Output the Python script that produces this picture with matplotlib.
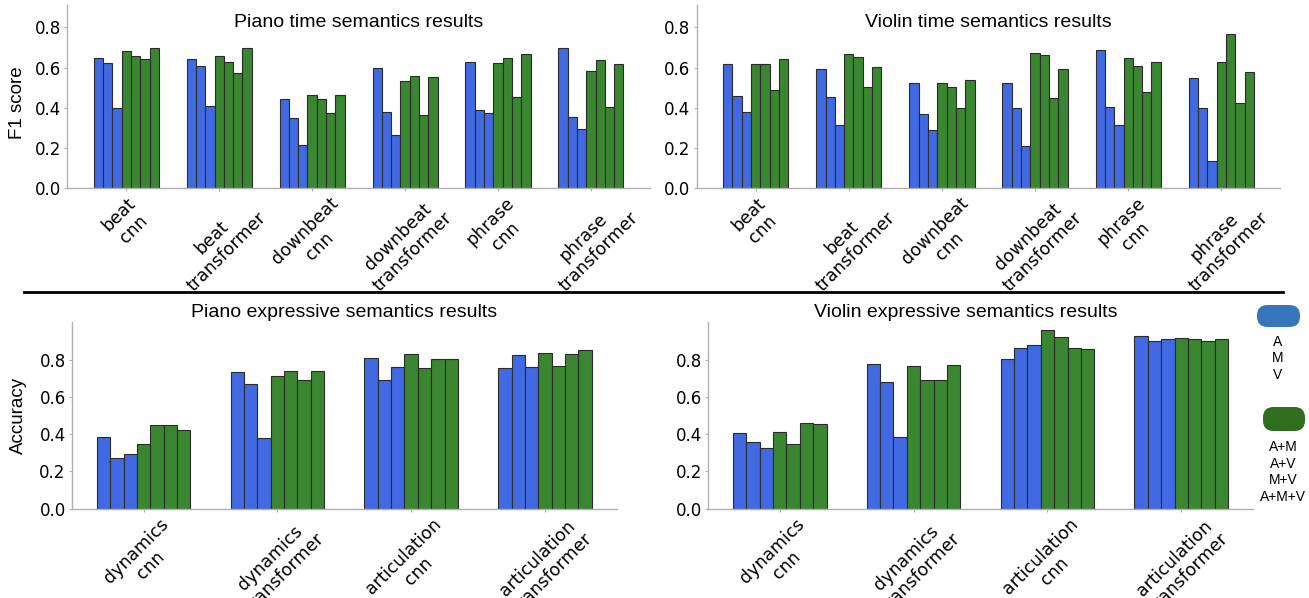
import numpy as np
import matplotlib.pyplot as plt
from matplotlib.patches import FancyBboxPatch
from matplotlib.lines import Line2D

# modality combinations, in bar order within each group
modalities = ["A", "M", "V", "A+M", "A+V", "M+V", "A+M+V"]

time_tasks = ["beat\ncnn", "beat\ntransformer", "downbeat\ncnn",
              "downbeat\ntransformer", "phrase\ncnn", "phrase\ntransformer"]
expr_tasks = ["dynamics\ncnn", "dynamics\ntransformer",
              "articulation\ncnn", "articulation\ntransformer"]

# F1 score, one row per task, one column per modality
piano_time = [
    [0.650, 0.624, 0.399, 0.682, 0.659, 0.642, 0.697],
    [0.645, 0.607, 0.407, 0.657, 0.627, 0.574, 0.697],
    [0.444, 0.351, 0.213, 0.464, 0.442, 0.376, 0.461],
    [0.597, 0.379, 0.266, 0.534, 0.556, 0.363, 0.551],
    [0.630, 0.389, 0.376, 0.622, 0.649, 0.454, 0.670],
    [0.695, 0.354, 0.296, 0.585, 0.639, 0.406, 0.619],
]
violin_time = [
    [0.617, 0.456, 0.378, 0.620, 0.620, 0.487, 0.645],
    [0.592, 0.452, 0.316, 0.667, 0.652, 0.502, 0.604],
    [0.522, 0.369, 0.289, 0.522, 0.502, 0.399, 0.536],
    [0.522, 0.401, 0.208, 0.675, 0.665, 0.449, 0.594],
    [0.685, 0.402, 0.313, 0.650, 0.610, 0.476, 0.630],
    [0.547, 0.398, 0.136, 0.630, 0.765, 0.422, 0.577],
]
# accuracy
piano_expr = [
    [0.386, 0.273, 0.293, 0.346, 0.450, 0.450, 0.421],
    [0.736, 0.671, 0.379, 0.711, 0.741, 0.689, 0.737],
    [0.807, 0.689, 0.759, 0.832, 0.754, 0.802, 0.804],
    [0.754, 0.827, 0.759, 0.834, 0.768, 0.830, 0.852],
]
violin_expr = [
    [0.407, 0.357, 0.325, 0.411, 0.348, 0.461, 0.455],
    [0.779, 0.682, 0.386, 0.763, 0.688, 0.693, 0.771],
    [0.805, 0.863, 0.880, 0.959, 0.923, 0.863, 0.855],
    [0.925, 0.900, 0.909, 0.918, 0.913, 0.898, 0.913],
]

BLUE = "#4169E1"
GREEN = "#3B8630"
bar_colors = [BLUE] * 3 + [GREEN] * 4

plt.rcParams["font.family"] = "DejaVu Sans"


def bar_panel(ax, data, tasks, title, title_pos, ylim):
    data = np.array(data)
    w = 0.1
    x = np.arange(len(tasks))
    for j in range(data.shape[1]):
        ax.bar(x + (j - 3) * w, data[:, j], width=w, color=bar_colors[j],
               edgecolor="#2b2b2b", linewidth=0.8)
    ax.set_xticks(x)
    ax.set_xticklabels(tasks, rotation=45, ha="center", fontsize=12.5)
    ax.set_ylim(*ylim)
    ax.set_yticks([0.0, 0.2, 0.4, 0.6, 0.8])
    ax.set_yticklabels(["0.0", "0.2", "0.4", "0.6", "0.8"], fontsize=12)
    for s in ["top", "right"]:
        ax.spines[s].set_visible(False)
    for s in ["left", "bottom"]:
        ax.spines[s].set_color("#b0b0b0")
        ax.spines[s].set_linewidth(1.0)
    ax.tick_params(axis="both", colors="#b0b0b0", length=2.5, width=0.8,
                   labelcolor="black", pad=2)
    ax.text(title_pos[0], title_pos[1], title, transform=ax.transAxes,
            ha="center", va="center", fontsize=14, family="Liberation Sans")


fig = plt.figure(figsize=(13.09, 5.98), dpi=100)

ax1 = fig.add_axes([0.0514, 0.6856, 0.4451, 0.3065])
ax2 = fig.add_axes([0.5321, 0.6856, 0.4461, 0.3065])
ax3 = fig.add_axes([0.0550, 0.1493, 0.4160, 0.3117])
ax4 = fig.add_axes([0.5409, 0.1493, 0.4163, 0.3117])

bar_panel(ax1, piano_time, time_tasks, "Piano time semantics results", (0.5, 0.902), (0, 0.913))
bar_panel(ax2, violin_time, time_tasks, "Violin time semantics results", (0.5, 0.902), (0, 0.913))
bar_panel(ax3, piano_expr, expr_tasks, "Piano expressive semantics results", (0.5, 1.051), (0, 1.0))
bar_panel(ax4, violin_expr, expr_tasks, "Violin expressive semantics results", (0.473, 1.051), (0, 1.0))

fig.text(18 / 1309, 1 - 102.5 / 598, "F1 score", rotation=90, ha="center", va="center",
         fontsize=13.5, family="Liberation Sans")
fig.text(18 / 1309, 1 - 415 / 598, "Accuracy", rotation=90, ha="center", va="center",
         fontsize=13.5, family="Liberation Sans")

# black separator between the two rows
fig.add_artist(Line2D([24 / 1309, 1283 / 1309], [1 - 292.3 / 598] * 2,
                      color="black", linewidth=2.0, transform=fig.transFigure))

# hand-made legend at the right edge
W, H = 1309, 598
fig.add_artist(FancyBboxPatch((1257 / W, 1 - 327 / H), 43 / W, 22 / H,
                              boxstyle="round,pad=0,rounding_size=0.008",
                              facecolor="#3776BA", edgecolor="none",
                              transform=fig.transFigure, mutation_aspect=W / H))
fig.add_artist(FancyBboxPatch((1263 / W, 1 - 431 / H), 42 / W, 24 / H,
                              boxstyle="round,pad=0,rounding_size=0.008",
                              facecolor="#2E6E1E", edgecolor="none",
                              transform=fig.transFigure, mutation_aspect=W / H))
for k, lab in enumerate(modalities[:3]):
    fig.text(1278 / W, 1 - (342 + 16.5 * k) / H, lab, ha="center", va="center",
             fontsize=10, family="Liberation Sans")
for k, lab in enumerate(modalities[3:]):
    fig.text(1283 / W, 1 - (446.7 + 16.8 * k) / H, lab, ha="center", va="center",
             fontsize=10, family="Liberation Sans")

fig.savefig("out.png", dpi=100)
